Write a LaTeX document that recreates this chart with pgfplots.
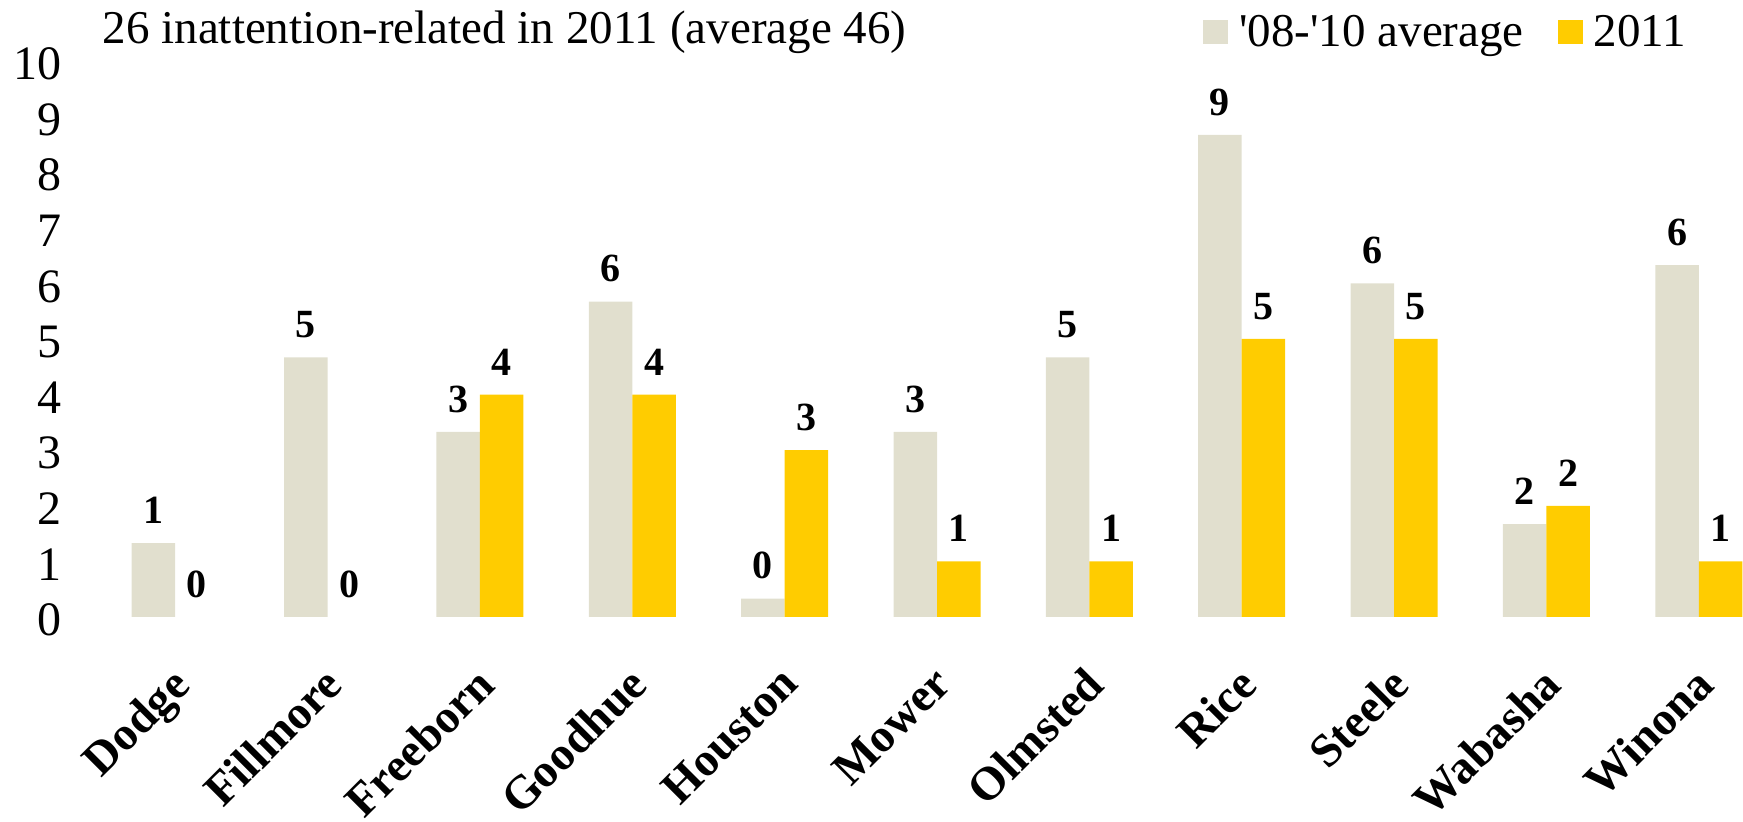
\documentclass[border=0pt]{standalone}
\usepackage{fontspec}
\setmainfont{Liberation Serif}
\usepackage{pgfplots}
\usepackage{pgfplotstable}
\pgfplotsset{compat=1.18}
\definecolor{avgc}{RGB}{225,223,206}
\definecolor{yrc}{RGB}{255,204,0}
\pgfplotstableread{
x avg
0 1.33
1 4.67
2 3.33
3 5.67
4 0.33
5 3.33
6 4.67
7 8.67
8 6
9 1.67
10 6.33
}\avgdata
\pgfplotstableread{
x yr
0 0
1 0
2 4
3 4
4 3
5 1
6 1
7 5
8 5
9 2
10 1
}\yrdata
\begin{document}
\begin{tikzpicture}
\path[use as bounding box] (0,0) rectangle (871.5pt,411pt);
\begin{axis}[
  at={(49.5pt,102.5pt)}, anchor=south west,
  scale only axis, width=838pt, height=278pt,
  xmin=-0.5, xmax=10.5, ymin=0, ymax=10,
  axis line style={draw=none}, major tick length=0pt,
  ybar=0pt, bar width=21.75pt,
  xtick={0,...,10},
  xticklabels={Dodge,Fillmore,Freeborn,Goodhue,Houston,Mower,Olmsted,Rice,Steele,Wabasha,Winona},
  ytick={0,...,10},
  /pgf/number format/assume math mode=true,
  yticklabel style={font=\fontsize{24}{24}\selectfont, anchor=east, inner sep=0pt, xshift=-18.5pt, yshift=-1.5pt},
  xticklabel style={font=\bfseries\fontsize{23.5}{23.5}\selectfont, xshift=-3pt, rotate=45, anchor=north east, inner sep=0pt},
  xticklabel shift=23.5pt,
  clip=false,
  every node near coord/.append style={font=\bfseries\fontsize{20}{20}\selectfont, inner sep=0pt, anchor=south, yshift=9.5pt},
  legend columns=2,
  legend style={at={(rel axis cs:0.6587,1.09)}, anchor=north west, draw=none, fill=none, inner sep=0pt,
    font=\fontsize{23.5}{23.5}\selectfont,
    /tikz/every odd column/.append style={column sep=3.5pt},
    /tikz/every even column/.append style={column sep=15pt}},
  legend image code/.code={\fill[#1] (0pt,-6pt) rectangle (12.5pt,6pt);},
]
\addplot[fill=avgc, draw=none, bar shift=-10.875pt,
  nodes near coords={\pgfmathprintnumber[fixed,precision=0]{\pgfplotspointmeta}}]
  table[x=x, y=avg] {\avgdata};
\addplot[fill=yrc, draw=none, bar shift=10.875pt,
  y filter/.expression={y==0 ? nan : y}]
  table[x=x, y=yr] {\yrdata};
\addplot[fill=none, draw=none, bar shift=10.875pt, forget plot,
  nodes near coords={\pgfmathprintnumber[fixed,precision=0]{\pgfplotspointmeta}}]
  table[x=x, y=yr] {\yrdata};
\legend{\textquotesingle 08-\textquotesingle 10 average, 2011}
\node[anchor=base west, inner sep=0pt, font=\fontsize{23.5}{23.5}\selectfont] at (rel axis cs:0.002,1.032) {26 inattention-related in 2011 (average 46)};
\end{axis}
\end{tikzpicture}
\end{document}
